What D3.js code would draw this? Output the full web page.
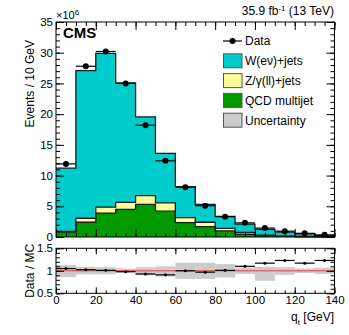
<!DOCTYPE html>
<html>
<head>
<meta charset="utf-8">
<script src="https://cdn.jsdelivr.net/npm/d3@7"></script>
<style>
  body { margin: 0; background: #fff; }
  svg { font-family: "Liberation Sans", Arial, sans-serif; }
</style>
</head>
<body>
<div id="chart"></div>
<script>
// bin low edges (GeV), width 10
const binEdges = [0, 10, 20, 30, 40, 50, 60, 70, 80, 90, 100, 110, 120, 130];
const binWidth = 10;

// stacked MC (x10^6 events / 10 GeV)
const qcdVals = [0.8, 2.4, 3.9, 4.5, 5.3, 4.2, 2.35, 1.7, 1.0, 0.45, 0.2, 0.1, 0.05, 0.03];
const zVals   = [0.1, 0.65, 0.95, 1.15, 1.45, 1.35, 0.8, 0.7, 0.42, 0.3, 0.1, 0.05, 0.03, 0.02];
const wVals   = [10.3, 24.05, 25.05, 19.45, 12.8, 8.05, 5.05, 2.9, 1.93, 1.35, 0.95, 0.63, 0.42, 0.17];

// data
const dataVals = [11.9, 27.8, 30.2, 25.0, 18.2, 12.4, 8.1, 5.1, 3.3, 2.3, 1.45, 0.95, 0.6, 0.35];

// ratio panel
const ratioVals = [1.05, 1.025, 1.01, 0.98, 0.93, 0.91, 1.0, 0.97, 1.01, 1.1, 1.17, 1.23, 1.17, 1.23];
const uncLow  = [0.86, 0.92, 0.92, 0.96, 0.90, 0.87, 0.82, 0.82, 0.85, 0.93, 0.78, 0.91, 0.95, 0.93];
const uncHigh = [1.13, 1.09, 1.08, 1.05, 1.08, 1.10, 1.18, 1.18, 1.15, 1.07, 1.09, 1.08, 1.05, 1.07];

const yTicksMain = [0, 5, 10, 15, 20, 25, 30, 35];
const xTicks = [0, 20, 40, 60, 80, 100, 120, 140];
const yTicksRatio = [0.5, 1, 1.5];

const legendItems = [
  { label: "Data", type: "data" },
  { label: "W(eν)+jets", color: "#00cccc" },
  { label: "Z/γ(ll)+jets", color: "#ffff99" },
  { label: "QCD multijet", color: "#009900" },
  { label: "Uncertainty", color: "#cccccc" }
];

const W = 349, H = 335;
const svg = d3.select("#chart").append("svg")
  .attr("width", W).attr("height", H);

const x = d3.scaleLinear().domain([0, 140]).range([56, 334.5]);
const y = d3.scaleLinear().domain([0, 35]).range([237, 22]);
const yr = d3.scaleLinear().domain([0.5, 1.5]).range([293.3, 248.3]);

// stacked histogram
const rows = binEdges.map((e, i) => ({ e: e, qcd: qcdVals[i], z: zVals[i], w: wVals[i] }));
const series = d3.stack().keys(["qcd", "z", "w"])(rows);
const colors = { qcd: "#009900", z: "#ffff99", w: "#00cccc" };

function stepPts(s) {
  const pts = s.map(d => ({ x: d.data.e, y0: d[0], y1: d[1] }));
  const last = pts[pts.length - 1];
  pts.push({ x: last.x + binWidth, y0: last.y0, y1: last.y1 });
  return pts;
}

const area = d3.area().curve(d3.curveStepAfter)
  .x(d => x(d.x)).y0(d => y(d.y0)).y1(d => y(d.y1));
const topLine = d3.line().curve(d3.curveStepAfter)
  .x(d => x(d.x)).y(d => y(d.y1));

series.forEach(s => {
  svg.append("path").attr("d", area(stepPts(s))).attr("fill", colors[s.key]);
});
series.forEach(s => {
  svg.append("path").attr("d", topLine(stepPts(s)))
    .attr("fill", "none").attr("stroke", "#1a1a1a").attr("stroke-width", 1.3);
});

// data points
const g = svg.append("g");
binEdges.forEach((e, i) => {
  g.append("line")
    .attr("x1", x(e)).attr("x2", x(e + binWidth))
    .attr("y1", y(dataVals[i])).attr("y2", y(dataVals[i]))
    .attr("stroke", "#000").attr("stroke-width", 1.2);
  g.append("circle")
    .attr("cx", x(e + binWidth / 2)).attr("cy", y(dataVals[i]))
    .attr("r", 3).attr("fill", "#000");
});

// ratio panel
binEdges.forEach((e, i) => {
  svg.append("rect")
    .attr("x", x(e)).attr("width", x(e + binWidth) - x(e))
    .attr("y", yr(uncHigh[i])).attr("height", yr(uncLow[i]) - yr(uncHigh[i]))
    .attr("fill", "#cccccc");
});
svg.append("line")
  .attr("x1", x(0)).attr("x2", x(140)).attr("y1", yr(1)).attr("y2", yr(1))
  .attr("stroke", "#e83030").attr("stroke-width", 0.9);
binEdges.forEach((e, i) => {
  svg.append("line")
    .attr("x1", x(e)).attr("x2", x(e + binWidth))
    .attr("y1", yr(ratioVals[i])).attr("y2", yr(ratioVals[i]))
    .attr("stroke", "#000").attr("stroke-width", 1.2);
  svg.append("circle")
    .attr("cx", x(e + binWidth / 2)).attr("cy", yr(ratioVals[i]))
    .attr("r", 1.5).attr("fill", "#000");
});

// axes with inward ticks
function addAxes(yScale, yMajor, yMinor, top, bottom, xLabels, majLen, minLen, yFmt) {
  const xMinor = d3.range(0, 141, 5);
  svg.append("g").attr("transform", `translate(0,${bottom})`)
    .call(d3.axisBottom(x).tickValues(xMinor).tickSize(-minLen).tickFormat(""));
  svg.append("g").attr("transform", `translate(0,${bottom})`)
    .call(d3.axisBottom(x).tickValues(xTicks).tickSize(-majLen).tickPadding(3)
      .tickFormat(xLabels ? d3.format("d") : ""));
  svg.append("g").attr("transform", `translate(0,${top})`)
    .call(d3.axisTop(x).tickValues(xMinor).tickSize(-minLen).tickFormat(""));
  svg.append("g").attr("transform", `translate(0,${top})`)
    .call(d3.axisTop(x).tickValues(xTicks).tickSize(-majLen).tickFormat(""));
  svg.append("g").attr("transform", `translate(${x(0)},0)`)
    .call(d3.axisLeft(yScale).tickValues(yMinor).tickSize(-4).tickFormat(""));
  svg.append("g").attr("transform", `translate(${x(0)},0)`)
    .call(d3.axisLeft(yScale).tickValues(yMajor).tickSize(-8).tickPadding(3).tickFormat(yFmt));
  svg.append("g").attr("transform", `translate(${x(140)},0)`)
    .call(d3.axisRight(yScale).tickValues(yMinor).tickSize(-4).tickFormat(""));
  svg.append("g").attr("transform", `translate(${x(140)},0)`)
    .call(d3.axisRight(yScale).tickValues(yMajor).tickSize(-8).tickFormat(""));
  svg.append("rect")
    .attr("x", x(0)).attr("y", top).attr("width", x(140) - x(0)).attr("height", bottom - top)
    .attr("fill", "none").attr("stroke", "#000").attr("stroke-width", 1);
}

addAxes(y, yTicksMain, d3.range(0, 35.01, 1), 22, 237, false, 8, 4, d3.format("d"));
addAxes(yr, yTicksRatio, d3.range(0.5, 1.501, 0.1), 248.3, 293.3, true, 6, 3, d => d === 1 ? "1" : d3.format(".1f")(d));

svg.selectAll(".domain").remove();
svg.selectAll(".tick line").attr("stroke", "#000");
svg.selectAll(".tick text").attr("font-size", 11.5).attr("fill", "#000")
  .attr("font-family", "Liberation Sans, Arial, sans-serif");

// texts
svg.append("text").attr("x", 56).attr("y", 19).attr("font-size", 11).text("×10")
  .append("tspan").attr("dy", -4).attr("font-size", 8).text("6");

const lumi = svg.append("text").attr("x", 334).attr("y", 15).attr("text-anchor", "end").attr("font-size", 12);
lumi.append("tspan").text("35.9 fb");
lumi.append("tspan").attr("dy", -4).attr("font-size", 8).text("-1");
lumi.append("tspan").attr("dy", 4).text(" (13 TeV)");

svg.append("text").attr("x", 63).attr("y", 38).attr("font-size", 15)
  .attr("font-weight", "bold").text("CMS");

svg.append("text").attr("transform", "translate(34,40) rotate(-90)")
  .attr("text-anchor", "end").attr("font-size", 12).text("Events / 10 GeV");
svg.append("text").attr("transform", `translate(34,${yr(1)}) rotate(-90)`)
  .attr("text-anchor", "middle").attr("font-size", 12).text("Data / MC");

const xl = svg.append("text").attr("x", 334).attr("y", 321).attr("text-anchor", "end").attr("font-size", 12);
xl.append("tspan").text("q");
xl.append("tspan").attr("dy", 4).attr("font-size", 8).text("t");
xl.append("tspan").attr("dy", -4).text(" [GeV]");

// legend
const leg = svg.append("g");
legendItems.forEach((it, i) => {
  const cy = 41 + i * 19.8;
  if (it.type === "data") {
    leg.append("line").attr("x1", 223).attr("x2", 242).attr("y1", cy).attr("y2", cy)
      .attr("stroke", "#000").attr("stroke-width", 1.2);
    leg.append("circle").attr("cx", 232.5).attr("cy", cy).attr("r", 3).attr("fill", "#000");
  } else {
    leg.append("rect").attr("x", 223.5).attr("y", cy - 7).attr("width", 18.5).attr("height", 14)
      .attr("fill", it.color).attr("stroke", "#555").attr("stroke-width", 1);
  }
  leg.append("text").attr("x", 245).attr("y", cy + 4.3).attr("font-size", 12).text(it.label);
});
</script>
</body>
</html>
